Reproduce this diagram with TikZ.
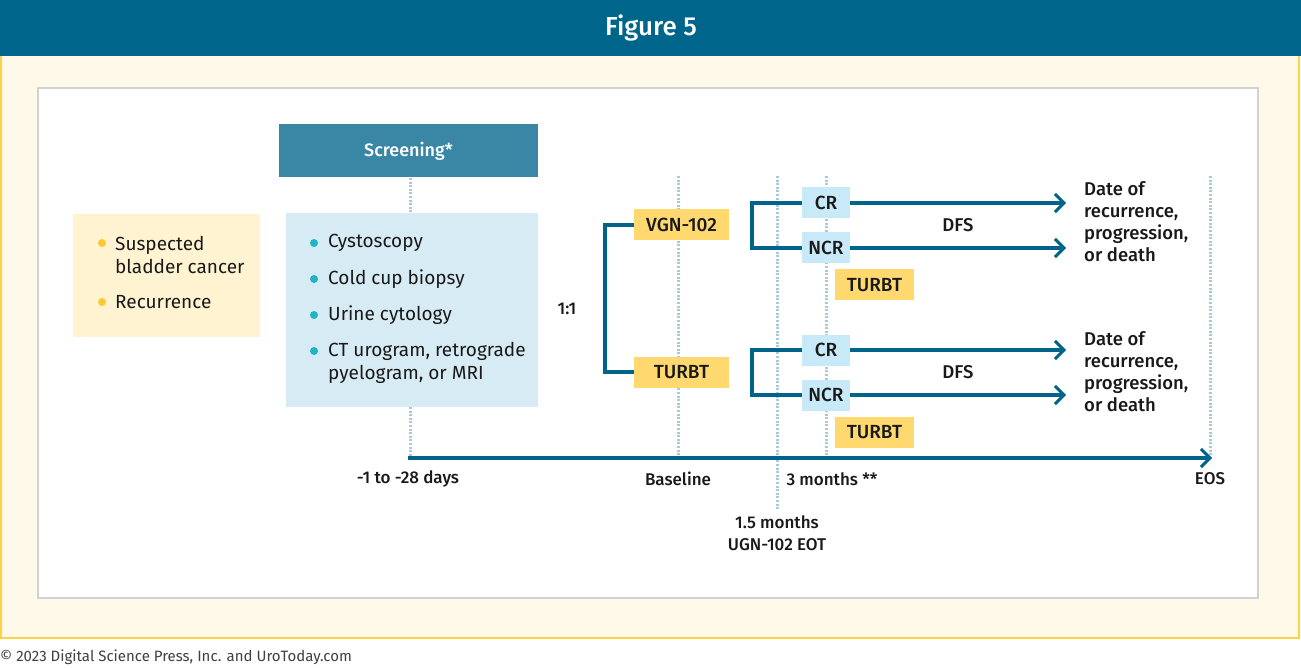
\documentclass[tikz,border=0pt]{standalone}
\usepackage{fontspec}
\setmainfont{Fira Sans}[BoldFont={Fira Sans Medium}]
\usetikzlibrary{arrows.meta}
\definecolor{headbg}{RGB}{0,101,139}
\definecolor{screenbg}{RGB}{58,135,165}
\definecolor{linec}{RGB}{0,100,138}
\definecolor{cream}{RGB}{255,249,234}
\definecolor{creamborder}{RGB}{255,210,70}
\definecolor{ylight}{RGB}{255,243,210}
\definecolor{blight}{RGB}{215,235,244}
\definecolor{crbg}{RGB}{200,233,248}
\definecolor{gold}{RGB}{255,217,112}
\definecolor{dotc}{RGB}{165,203,218}
\definecolor{ybullet}{RGB}{255,200,50}
\definecolor{tbullet}{RGB}{30,180,195}
\definecolor{txt}{RGB}{25,25,25}
\definecolor{panelborder}{RGB}{210,210,210}
\tikzset{
  dotline/.style={dotc,line width=3pt,dash pattern=on 2pt off 1.6pt},
  goldbox/.style={fill=gold,inner sep=0pt,minimum height=31pt,text=txt,font=\fontsize{19}{20}\selectfont\bfseries},
  crbox/.style={fill=crbg,inner sep=0pt,minimum width=48pt,minimum height=31pt,text=txt,font=\fontsize{19}{20}\selectfont\bfseries},
  conn/.style={linec,line width=4pt},
  arr/.style={linec,line width=4pt,-{Straight Barb[length=9pt,width=18pt,line width=3pt]}},
  bullettext/.style={anchor=west,inner sep=0pt,text=txt,font=\fontsize{19}{24}\selectfont,align=left},
  lbl/.style={inner sep=0pt,text=txt,font=\fontsize{17}{22}\selectfont\bfseries,align=center},
  outtext/.style={anchor=north west,inner sep=0pt,text=txt,font=\fontsize{18.5}{22}\selectfont\bfseries,align=left},
}
\begin{document}
\begin{tikzpicture}[x=1pt,y=-1pt]
\useasboundingbox (0,0) rectangle (1301,668);
% background frames
\fill[white] (0,0) rectangle (1301,668);
\fill[cream,draw=creamborder,line width=2pt] (1,50) rectangle (1299,638);
\fill[headbg] (0,0) rectangle (1301,56);
\node[text=white,font=\fontsize{26}{30}\selectfont\bfseries] (title) at (651,28) {Figure 5};
\fill[white,draw=panelborder,line width=2pt] (38,88) rectangle (1258,598);
\node[anchor=west,inner sep=0pt,text=black!75,font=\fontsize{15}{18}\selectfont] (foot) at (0,657) {\textcopyright\ 2023 Digital Science Press, Inc. and UroToday.com};

% dotted guide lines
\draw[dotline] (410,178) -- (410,213);
\draw[dotline] (410,407) -- (410,458);
\draw[dotline] (678,176) -- (678,458);
\draw[dotline] (777,176) -- (777,510);
\draw[dotline] (826,176) -- (826,455);
\draw[dotline] (1210,176) -- (1210,458);

% timeline
\coordinate (t0) at (408,458);
\coordinate (t1) at (1212,458);
\draw[arr] (t0) -- (t1);

% left box
\node[fill=ylight,minimum width=187pt,minimum height=123pt,inner sep=0pt] (sus) at (166.5,275.5) {};
\fill[ybullet] (102,243) circle (4pt);
\fill[ybullet] (102,302) circle (4pt);
\node[bullettext] (s1) at (115,255) {Suspected\\[-1pt]bladder cancer};
\node[bullettext] (s2) at (115,302) {Recurrence};

% screening
\node[fill=screenbg,minimum width=259pt,minimum height=53pt,inner sep=0pt,text=white,font=\fontsize{18}{20}\selectfont\bfseries] (scr) at (408.5,151) {Screening*};
\node[fill=blight,minimum width=252pt,minimum height=194pt,inner sep=0pt] (scrbox) at (412,310) {};
\foreach \yy in {243,279,315,351} \fill[tbullet] (314,\yy) circle (4pt);
\node[bullettext] (b1) at (328,243) {Cystoscopy};
\node[bullettext] (b2) at (328,279) {Cold cup biopsy};
\node[bullettext] (b3) at (328,315) {Urine cytology};
\node[bullettext] (b4) at (328,363) {CT urogram, retrograde\\[-1pt]pyelogram, or MRI};

% randomisation
\node[lbl,font=\fontsize{17}{20}\selectfont\bfseries] (ratio) at (567,309) {1:1};
\node[goldbox,minimum width=95pt] (vgn) at (681.5,225) {VGN-102};
\node[goldbox,minimum width=95pt] (turbt) at (681.5,372) {TURBT};
\coordinate (bx) at (605,0);
\draw[conn] (vgn.west) -- (vgn.west -| bx) -- (turbt.west -| bx) -- (turbt.west);

% top arm
\node[crbox] (cr1) at (826,203) {CR};
\node[crbox] (ncr1) at (826,248) {NCR};
\node[goldbox,minimum width=79pt] (tu1) at (874.5,285) {TURBT};
\coordinate (bx2) at (752,0);
\coordinate (ax) at (1066,0);
\draw[conn] (cr1.west) -- (cr1.west -| bx2) -- (ncr1.west -| bx2) -- (ncr1.west);
\draw[arr] (cr1.east) -- (cr1.east -| ax);
\draw[arr] (ncr1.east) -- (ncr1.east -| ax);
\node[lbl,font=\fontsize{18.5}{20}\selectfont\bfseries] (dfs1) at (958,225) {DFS};
\node[outtext] (out1) at (1084,181) {Date of\\recurrence,\\progression,\\or death};

% bottom arm
\node[crbox] (cr2) at (826,350) {CR};
\node[crbox] (ncr2) at (826,395) {NCR};
\node[goldbox,minimum width=79pt] (tu2) at (874.5,432) {TURBT};
\draw[conn] (cr2.west) -- (cr2.west -| bx2) -- (ncr2.west -| bx2) -- (ncr2.west);
\draw[arr] (cr2.east) -- (cr2.east -| ax);
\draw[arr] (ncr2.east) -- (ncr2.east -| ax);
\node[lbl,font=\fontsize{18.5}{20}\selectfont\bfseries] (dfs2) at (958,372) {DFS};
\node[outtext] (out2) at (1084,331) {Date of\\recurrence,\\progression,\\or death};

% timeline labels
\node[lbl] (l1) at (408,479) {-1 to -28 days};
\node[lbl] (l2) at (678,479) {Baseline};
\node[lbl] (l3) at (832,479) {3 months **};
\node[lbl] (l4) at (1210,479) {EOS};
\node[lbl] (l5) at (777,533) {1.5 months\\UGN-102 EOT};
\end{tikzpicture}
\end{document}
